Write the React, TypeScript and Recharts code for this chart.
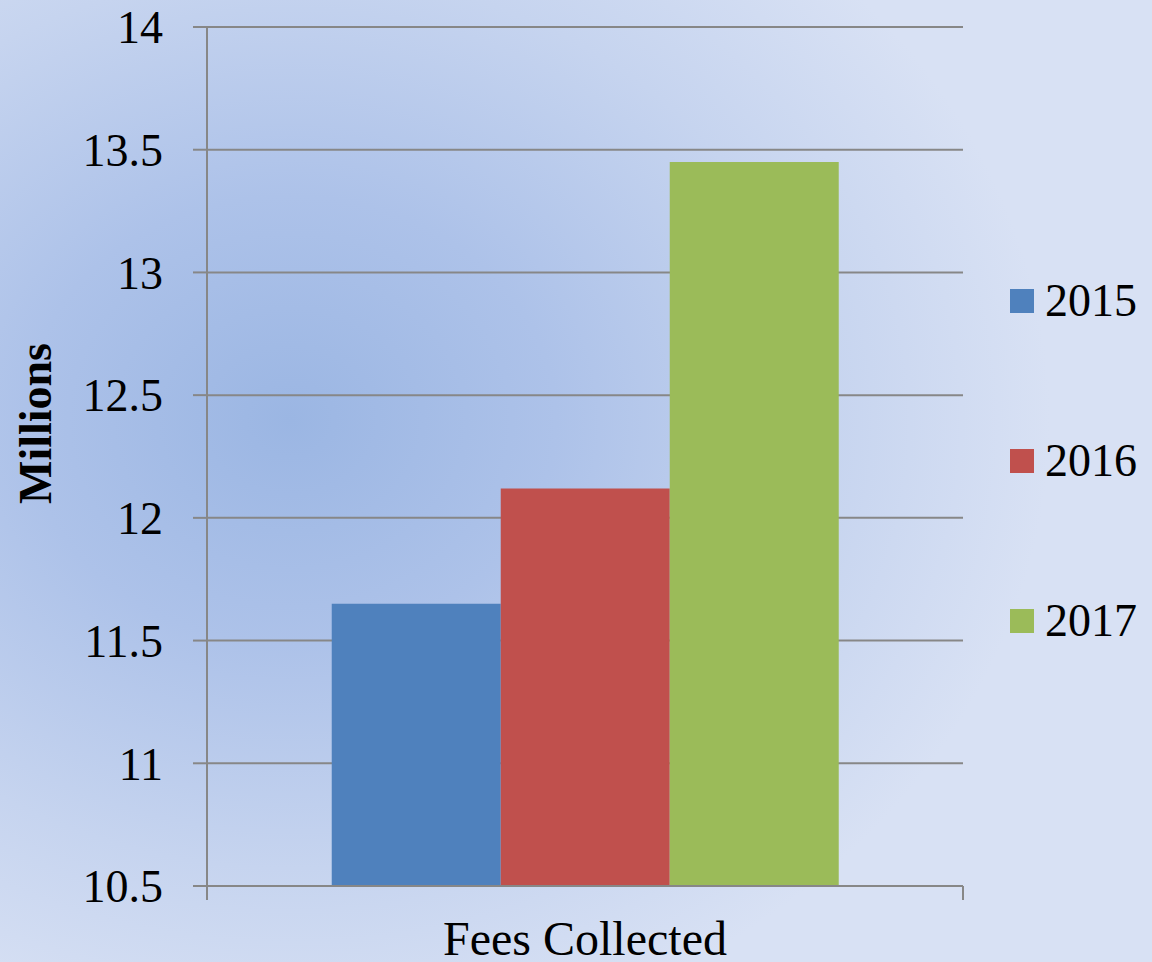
import React from 'react';
import { BarChart, Bar, XAxis, YAxis, CartesianGrid } from 'recharts';

const categories = ['Fees Collected'];
const seriesNames = ['2015', '2016', '2017'];
const values2015 = [11.65];
const values2016 = [12.12];
const values2017 = [13.45];
const yTicks = [10.5, 11, 11.5, 12, 12.5, 13, 13.5, 14];
const seriesColors = ['#4F81BD', '#C0504D', '#9BBB59'];

const data = categories.map((c, i) => ({
  name: c,
  s2015: values2015[i],
  s2016: values2016[i],
  s2017: values2017[i],
}));
const seriesKeys = ['s2015', 's2016', 's2017'];

const FONT = 'Liberation Serif';
const AXIS = '#878787';

const XTick = (props: any) => {
  const { x, y, payload } = props;
  const off = (payload && payload.offset) || (props.width ? props.width / 2 : 0);
  return (
    <g>
      <line x1={x - off} x2={x - off} y1={y} y2={y + 14} stroke={AXIS} strokeWidth={2} />
      <line x1={x + off} x2={x + off} y1={y} y2={y + 14} stroke={AXIS} strokeWidth={2} />
      <text x={x} y={y + 69} textAnchor="middle" fontSize={48} style={{ fontFamily: FONT }} fill="#000">
        {payload.value}
      </text>
    </g>
  );
};

const YLabel = (props: any) => {
  const vb = props.viewBox || { x: 0, y: 27, width: 207, height: 859 };
  const cx = vb.x + 35;
  const cy = vb.y + vb.height / 2 - 33;
  return (
    <text
      x={cx}
      y={cy}
      transform={`rotate(-90, ${cx}, ${cy})`}
      textAnchor="middle"
      dominantBaseline="central"
      fontSize={46}
      fontWeight="bold"
      style={{ fontFamily: FONT }}
      fill="#000"
    >
      Millions
    </text>
  );
};

export default function App() {
  return (
    <div
      style={{
        position: 'absolute',
        left: 0,
        top: 0,
        width: 1152,
        height: 962,
        overflow: 'hidden',
        backgroundColor: '#d3def2',
        backgroundImage:
          'radial-gradient(ellipse 760px 640px at 290px 420px, #9bb6e3 0%, #adc2e9 35%, #c6d4ef 70%, #d8e1f4 100%)',
        fontFamily: FONT,
      }}
    >
      <BarChart
        width={1152}
        height={962}
        data={data}
        margin={{ top: 27, right: 189, bottom: 0, left: 0 }}
        barCategoryGap="16.5%"
        barGap={0}
        style={{ fontFamily: FONT }}
      >
        <CartesianGrid vertical={false} stroke={AXIS} strokeWidth={2} />
        <XAxis
          dataKey="name"
          height={76}
          interval={0}
          axisLine={{ stroke: AXIS, strokeWidth: 2 }}
          tickLine={false}
          tickSize={0}
          tickMargin={0}
          tick={<XTick />}
        />
        <YAxis
          type="number"
          width={207}
          domain={[10.5, 14]}
          ticks={yTicks}
          allowDataOverflow
          interval={0}
          axisLine={{ stroke: AXIS, strokeWidth: 2 }}
          tickLine={{ stroke: AXIS, strokeWidth: 2 }}
          tickSize={14}
          tickMargin={30}
          tick={{ fill: '#000', fontSize: 46, style: { fontFamily: FONT } }}
          label={<YLabel />}
        />
        {seriesKeys.map((k, i) => (
          <Bar key={k} dataKey={k} name={seriesNames[i]} fill={seriesColors[i]} isAnimationActive={false} />
        ))}
      </BarChart>
      {seriesNames.map((n, i) => (
        <div
          key={n}
          style={{
            position: 'absolute',
            left: 1010,
            top: 289 + i * 160,
            height: 24,
            display: 'flex',
            alignItems: 'center',
            whiteSpace: 'nowrap',
          }}
        >
          <div style={{ width: 24, height: 24, background: seriesColors[i] }} />
          <span style={{ marginLeft: 11, fontSize: 46, lineHeight: '24px', color: '#000', fontFamily: FONT }}>{n}</span>
        </div>
      ))}
    </div>
  );
}
